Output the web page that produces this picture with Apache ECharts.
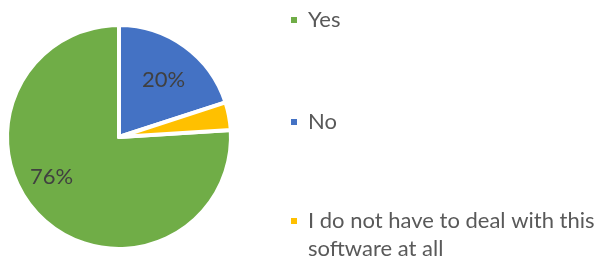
<!DOCTYPE html>
<html>
<head>
    <meta charset="utf-8">
    <title>Pie</title>
    <script src="https://cdn.jsdelivr.net/npm/echarts@6/dist/echarts.min.js"></script>
    <style>
        html, body { margin: 0; padding: 0; background: #fff; }
        #chart1 { width: 595px; height: 263px; }
    </style>
</head>
<body>
    <div id="chart1"></div>
    <script type="text/javascript">
        // 数据
        var categories = ['Yes', 'No', 'I do not have to deal with this software at all'];
        var values = [76, 20, 4];
        var colors = ['#70AD47', '#4472C4', '#FFC000'];
        var showLabel = [true, true, false];
        var labelOffsets = [[-27, -3], [10, -9], [0, 0]];

        var fontName = 'Lato';
        var myChart1 = echarts.init(document.getElementById('chart1'));

        var pieData = categories.map(function (name, i) {
            return {
                name: name,
                value: values[i],
                itemStyle: { color: colors[i] },
                label: { show: showLabel[i], offset: labelOffsets[i] }
            };
        });

        // one legend block per item, icon centres at ~20 / 122 / 221
        var legendTops = [6, 108, 179];
        var legends = categories.map(function (name, i) {
            return {
                data: [name],
                left: 289,
                top: legendTops[i],
                padding: 0,
                orient: 'vertical',
                icon: 'rect',
                itemWidth: 8,
                itemHeight: 8,
                selectedMode: false,
                formatter: function (n) {
                    // blank first line so the icon sits beside the first text line
                    return n === categories[2] ? '\nI do not have to deal with this\nsoftware at all' : n;
                },
                textStyle: {
                    color: '#595959',
                    fontFamily: fontName,
                    fontSize: 22,
                    lineHeight: 28,
                    padding: [0, 0, 0, 5]
                }
            };
        });

        myChart1.setOption({
            animation: false,
            backgroundColor: '#ffffff',
            legend: legends,
            series: [
                {
                    type: 'pie',
                    center: [119, 137],
                    radius: 112,
                    startAngle: 3.6,
                    clockwise: true,
                    avoidLabelOverlap: false,
                    label: {
                        position: 'inside',
                        formatter: '{d}%',
                        color: '#404040',
                        fontFamily: fontName,
                        fontSize: 22
                    },
                    labelLine: { show: false },
                    itemStyle: {
                        borderColor: '#ffffff',
                        borderWidth: 4
                    },
                    emphasis: { disabled: true },
                    data: pieData
                }
            ]
        });
    </script>
</body>
</html>
